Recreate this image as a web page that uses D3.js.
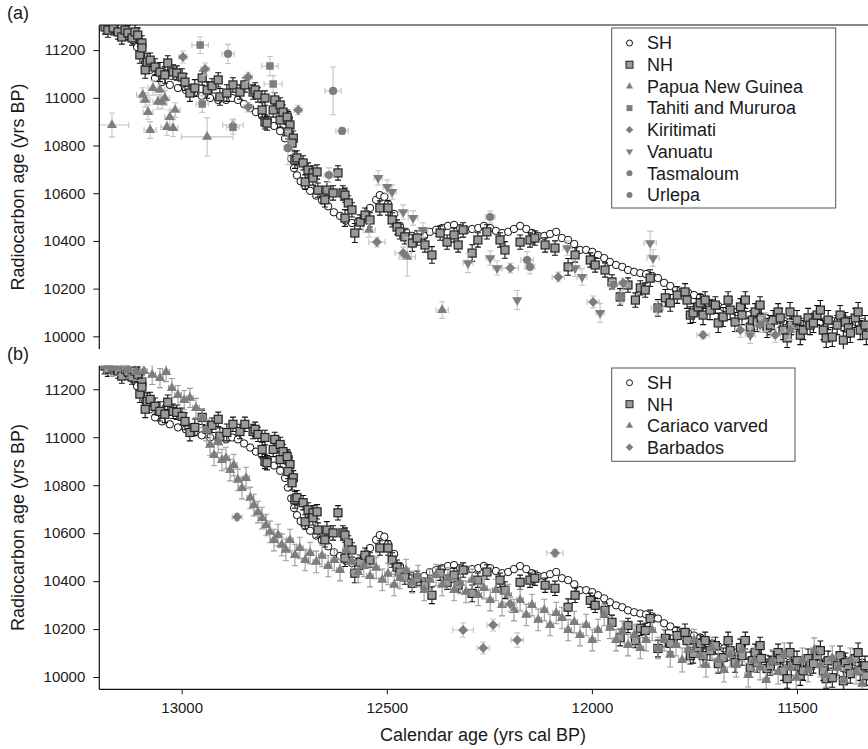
<!DOCTYPE html>
<html><head><meta charset="utf-8">
<script src="https://cdn.jsdelivr.net/npm/d3@7"></script>
<style>
body{margin:0;background:#fff}
svg{display:block}
text{font-family:"Liberation Sans",Arial,Helvetica,sans-serif;fill:#1a1a1a}
</style>
</head><body>
<svg id="c" width="868" height="749"></svg>
<script>
// ---------------- data ----------------
const xTicks = [13000, 12500, 12000, 11500];
const yTicks = [10000, 10200, 10400, 10600, 10800, 11000, 11200];

// SH: [cal BP, 14C BP]
const SH = [
[13180,11293],[13163,11284],[13146,11272],[13131,11259],[13119,11242],[13109,11213],[13099,11180],[13089,11150],[13077,11117],[13065,11083],
[13048,11066],[13029,11054],[13009,11041],[12990,11033],[12970,11020],[12951,11008],[12931,10999],[12911,10991],[12892,10991],[12877,10999],
[12863,10991],[12848,10974],[12833,10957],[12819,10940],[12804,10924],[12790,10907],[12775,10882],[12760,10860],[12748,10830],[12741,10790],
[12733,10745],[12726,10705],[12719,10675],[12710,10650],[12699,10630],[12687,10610],[12672,10590],[12658,10570],[12643,10545],[12629,10520],
[12614,10505],[12600,10485],[12585,10475],[12570,10482],[12555,10505],[12541,10538],[12526,10572],[12517,10592],[12506,10585],[12497,10555],
[12482,10513],[12468,10463],[12453,10438],[12438,10421],[12424,10412],[12409,10421],[12395,10438],[12380,10446],[12365,10454],[12351,10463],
[12336,10467],[12321,10454],[12307,10446],[12292,10450],[12277,10454],[12263,10463],[12248,10454],[12234,10442],[12219,10433],[12204,10438],
[12190,10450],[12175,10463],[12160,10450],[12146,10433],[12131,10421],[12116,10421],[12102,10429],[12087,10438],[12073,10412],[12058,10404],
[12043,10387],[12029,10362],[12014,10362],[11999,10354],[11985,10341],[11970,10328],[11956,10312],[11941,10299],[11926,10291],[11912,10278],
[11897,10270],[11882,10265],[11868,10261],[11853,10253],[11839,10244],[11824,10224],[11809,10211],[11795,10194],[11780,10186],[11765,10182],
[11751,10173],[11736,10165],[11722,10152],[11707,10140],[11692,10127],[11678,10119],[11663,10110],[11648,10102],[11634,10094],[11619,10089],
[11604,10085],[11590,10077],[11575,10077],[11560,10068],[11546,10068],[11531,10064],[11517,10060],[11502,10064],[11487,10060],[11473,10068],
[11458,10060],[11444,10060],[11429,10068],[11414,10064],[11400,10068],[11385,10073],[11370,10068],[11356,10060],[11341,10060]
];

// NH: [cal BP, 14C BP, 1-sigma 14C]
const NH = [
[13187,11297,30],[13180,11284,30],[13167,11293,30],[13155,11276,30],[13146,11255,30],[13138,11284,30],[13131,11272,30],[13121,11251,30],
[13114,11276,30],[13107,11263,30],[13102,11180,35],[13097,11230,30],[13097,11209,35],[13089,11117,35],[13084,11150,35],[13077,11158,30],
[13065,11129,35],[13053,11108,40],[13041,11096,35],[13034,11146,30],[13021,11108,30],[13012,11104,30],[12999,11087,35],[12992,11066,35],
[12980,11020,35],[12968,11041,35],[12950,11083,30],[12938,11033,35],[12926,11050,30],[12911,11075,30],[12907,11004,35],[12890,11020,35],
[12875,11054,30],[12858,11024,30],[12846,11054,30],[12826,11024,30],[12821,11033,30],[12814,11012,30],[12804,10949,30],[12797,10999,30],
[12797,10899,30],[12792,10894,30],[12773,10991,30],[12777,10949,30],[12760,10970,30],[12760,10907,30],[12753,10940,30],[12741,10907,35],
[12743,10919,30],[12736,10886,30],[12741,10857,30],[12728,10831,30],[12731,10810,30],[12724,10739,35],[12719,10748,30],[12704,10727,30],
[12692,10697,30],[12680,10685,30],[12699,10647,30],[12680,10664,30],[12670,10689,30],[12668,10613,30],[12651,10572,30],[12646,10613,35],
[12631,10601,30],[12619,10685,30],[12607,10601,30],[12602,10592,30],[12594,10559,30],[12602,10496,35],[12585,10530,30],[12578,10433,40],
[12565,10479,30],[12553,10508,30],[12541,10488,30],[12517,10538,30],[12497,10538,30],[12487,10488,30],[12475,10458,30],[12468,10438,30],
[12456,10417,30],[12438,10391,35],[12426,10412,30],[12407,10383,30],[12390,10341,35],[12370,10433,30],[12353,10395,30],[12336,10425,30],
[12326,10383,30],[12314,10446,30],[12292,10349,35],[12278,10404,30],[12256,10438,30],[12224,10404,30],[12212,10362,35],[12175,10395,30],
[12151,10404,30],[12139,10412,30],[12114,10383,30],[12090,10370,30],[12058,10291,35],[12041,10341,30],[12004,10320,30],[11992,10299,30],
[11968,10278,30],[11951,10228,30],[11931,10165,35],[11912,10215,30],[11894,10152,30],[11882,10203,30],[11870,10194,30],[11858,10244,35],
[11839,10119,35],[11821,10161,35],[11809,10140,35],[11792,10173,35],[11773,10186,35],[11768,10152,35],[11760,10089,35],[11753,10098,40],
[11741,10123,35],[11736,10140,35],[11729,10089,40],[11724,10152,35],[11712,10110,40],[11699,10131,35],[11692,10056,40],[11680,10081,40],
[11668,10152,35],[11663,10110,40],[11651,10060,40],[11638,10123,35],[11634,10089,40],[11626,10152,35],[11614,10039,40],[11609,10068,40],
[11602,10102,35],[11597,10060,40],[11590,10131,35],[11587,10077,40],[11573,10035,40],[11565,10047,40],[11558,10068,40],[11546,10102,35],
[11541,10077,40],[11534,10026,40],[11524,9993,40],[11517,10102,40],[11514,10047,40],[11500,10068,40],[11492,10005,40],[11485,10026,40],
[11473,10077,40],[11468,10047,40],[11460,10056,40],[11451,10089,40],[11443,10110,40],[11436,10026,40],[11429,9993,40],[11424,10068,40],
[11414,9997,40],[11402,10047,40],[11395,10089,40],[11387,9984,40],[11382,10060,40],[11375,10035,40],[11370,10014,40],[11358,10077,40],
[11351,10102,40],[11346,10026,40],[11334,10047,40],[11331,10005,40]
];

// Other records: [cal BP, 14C BP, cal error, 14C error]
const PNG = [
[13170,10886,41,50],[13095,11012,15,30],[13089,10991,12,30],[13082,10940,12,30],[13077,10865,15,35],[13070,11041,12,30],[13058,10983,12,30],
[13053,11033,12,30],[13048,10983,12,30],[13041,10999,12,30],[13036,10877,15,35],[13029,10919,12,30],[13021,10873,12,35],[13016,10949,12,30],
[12938,10836,63,80],[12875,10886,25,25],[12543,10446,15,30],[12450,10333,20,80],[12365,10110,15,35],[11578,10060,12,40],[11517,10026,12,40]
];
const Tahiti = [
[12955,11221,20,35],[12785,11133,20,40],[12777,11058,22,35],[12950,10974,15,35],[12875,10877,15,30],[11841,10119,15,30]
];
const Kiritimati = [
[12997,11171,10,25],[12943,11121,10,25],[12838,11087,10,20],[12838,10961,10,20],[12716,10949,10,20],[12524,10395,20,20],[12460,10349,20,25],
[12199,10286,20,20],[12082,10249,15,20],[11997,10144,15,25],[11948,10215,10,20],[11924,10224,10,20],[11729,10005,15,15],
[11638,10026,12,30],[11590,10047,12,30],[11553,10005,12,30]
];
const Vanuatu = [
[12521,10664,10,30],[12499,10626,10,30],[12487,10605,10,30],[12460,10521,12,30],[12436,10496,12,30],[12412,10446,12,30],[12302,10307,12,40],
[12248,10328,10,30],[12231,10286,10,30],[12182,10152,5,40],[12060,10370,10,30],[12041,10286,12,35],[12024,10249,12,35],[11980,10098,10,40],
[11858,10391,15,50],[11851,10328,15,35],[11614,10005,12,35]
];
const Tasmaloum = [
[12887,11184,15,40],[12741,10789,10,70],[12248,10500,12,25],[12158,10320,15,35],[12151,10291,12,30]
];
const Urlepa = [
[12631,11029,20,100],[12609,10861,15,15],[12641,10676,12,30],[11929,10165,10,25]
];
const Cariaco = [
[13189,11297,8,35],[13170,11289,8,35],[13150,11293,8,35],[13131,11281,8,35],[13111,11272,8,35],[13092,11276,8,35],[13072,11260,8,40],
[13053,11247,8,40],[13038,11272,8,40],[13024,11205,8,40],[13009,11176,8,40],[12994,11155,8,40],[12980,11164,8,40],[12965,11122,8,40],
[12950,11080,8,40],[12940,11030,8,45],[12931,10968,8,45],[12921,10926,8,45],[12911,10980,8,45],[12902,10905,8,45],[12892,10913,8,45],
[12882,10863,8,45],[12873,10884,8,45],[12863,10822,8,45],[12853,10788,8,45],[12843,10830,8,45],[12833,10747,8,45],[12824,10717,8,45],
[12814,10688,8,45],[12804,10663,8,45],[12794,10634,8,45],[12785,10605,8,45],[12775,10571,8,45],[12765,10592,8,45],[12756,10551,8,45],
[12746,10530,8,45],[12736,10571,8,45],[12724,10509,8,45],[12712,10538,8,45],[12699,10488,8,45],[12687,10517,8,45],[12672,10480,8,45],
[12658,10505,8,45],[12643,10463,8,45],[12628,10488,8,45],[12614,10446,8,45],[12599,10530,8,45],[12585,10480,8,45],[12570,10438,8,45],
[12556,10463,8,45],[12541,10421,8,45],[12526,10455,8,45],[12511,10405,8,45],[12497,10430,8,45],[12482,10384,8,45],[12468,10413,8,45],
[12453,10446,8,45],[12438,10396,8,45],[12424,10421,8,45],[12409,10363,8,45],[12395,10405,8,45],[12380,10425,8,45],[12365,10384,8,45],
[12351,10413,8,45],[12336,10363,8,45],[12321,10392,8,45],[12307,10355,8,45],[12292,10405,8,45],[12277,10342,8,45],[12263,10371,8,45],
[12248,10321,8,45],[12234,10363,8,45],[12219,10300,8,45],[12204,10342,8,45],[12190,10279,8,45],[12175,10321,8,45],[12160,10259,8,45],
[12146,10300,8,45],[12131,10238,8,45],[12116,10279,8,45],[12102,10217,8,45],[12087,10267,8,45],[12073,10246,8,45],[12058,10196,8,45],
[12043,10229,8,45],[12029,10175,8,45],[12014,10217,8,45],[11999,10154,8,45],[11985,10196,8,45],[11970,10259,8,45],[11956,10205,8,45],
[11941,10154,8,45],[11926,10188,8,45],[11912,10133,8,45],[11897,10175,8,45],[11882,10121,8,45],[11868,10154,8,45],[11853,10196,8,45],
[11839,10121,8,45],[11824,10154,8,45],[11809,10092,8,50],[11795,10133,8,45],[11780,10071,8,50],[11765,10113,8,45],[11751,10154,8,45],
[11736,10092,8,50],[11722,10050,8,50],[11707,10121,8,45],[11692,10071,8,50],[11678,10029,8,50],[11663,10092,8,50],[11648,10050,8,50],
[11634,10113,8,50],[11619,10008,8,50],[11604,10071,8,50],[11590,10038,8,50],[11575,9987,8,50],[11560,10063,8,50],[11546,10021,8,50],
[11531,10092,8,50],[11517,10038,8,50],[11502,9996,8,50],[11487,10071,8,50],[11473,10029,8,50],[11458,10113,8,50],[11443,10050,8,50],
[11429,10008,8,50],[11414,10079,8,50],[11400,10038,8,50],[11385,9987,8,50],[11370,10071,8,50],[11356,10021,8,50],[11341,9971,8,50]
];
const Barbados = [
[12865,10667,12,15],[12314,10196,25,30],[12265,10121,15,25],[12241,10217,15,25],[12199,10304,15,30],[12182,10154,15,30],[12090,10517,20,15]
];

const legendA = ["SH","NH","Papua New Guinea","Tahiti and Mururoa","Kiritimati","Vanuatu","Tasmaloum","Urlepa"];
const legendB = ["SH","NH","Cariaco varved","Barbados"];

// ---------------- drawing ----------------
const svg = d3.select("#c");
const W = 868;
const x = d3.scaleLinear().domain([13000, 11500]).range([181.7, 797]);
const xLeft = 99.3;

const panels = [
  {label:"(a)", y: d3.scaleLinear().domain([10000, 11200]).range([336.3, 50.1]), top:25, bottom:349, topLine:true, bottomAxis:false,
   others:[["PNG",PNG,"tri"],["Tahiti",Tahiti,"sq"],["Kiritimati",Kiritimati,"dia"],["Vanuatu",Vanuatu,"tridown"],["Tasmaloum",Tasmaloum,"circ"],["Urlepa",Urlepa,"circ"]],
   legend:{x0:611.7,y0:28,x1:835.7,y1:208,items:legendA,kinds:["sh","nh","tri","sq","dia","tridown","circ","circ"],y:43,step:21.7}},
  {label:"(b)", y: d3.scaleLinear().domain([10000, 11200]).range([677, 389.3]), top:365.7, bottom:689.3, topLine:false, bottomAxis:true,
   others:[["Cariaco",Cariaco,"tri"],["Barbados",Barbados,"dia"]],
   legend:{x0:611.7,y0:368,x1:795,y1:461.3,items:legendB,kinds:["sh","nh","tri","dia"],y:382.7,step:21.5}}
];

function symPath(kind, s){
  if(kind==="tri" || kind==="tridown") return d3.symbol().type(d3.symbolTriangle).size(s)();
  if(kind==="sq") return d3.symbol().type(d3.symbolSquare).size(s)();
  if(kind==="circ") return d3.symbol().type(d3.symbolCircle).size(s)();
  if(kind==="dia"){ const r=Math.sqrt(s/2); return `M0,${-r}L${r},0L0,${r}L${-r},0Z`; }
}

panels.forEach((p,pi)=>{
  const y = p.y;
  const clipId = "clip"+pi;
  svg.append("clipPath").attr("id",clipId).append("rect")
    .attr("x",xLeft).attr("y",p.top).attr("width",W-xLeft).attr("height",p.bottom-p.top);
  const g = svg.append("g").attr("clip-path",`url(#${clipId})`);

  // SH circles
  g.append("g").selectAll("circle").data(SH).join("circle")
    .attr("cx",d=>x(d[0])).attr("cy",d=>y(d[1])).attr("r",3.7)
    .attr("fill","#fff").attr("stroke","#111").attr("stroke-width",1);

  // NH error bars + squares
  const nh = g.append("g");
  nh.selectAll("path.eb").data(NH).join("path").attr("class","eb")
    .attr("d",d=>{const cx=x(d[0]),a=y(d[1]+d[2]),b=y(d[1]-d[2]);
       return `M${cx},${a}V${b}M${cx-3},${a}H${cx+3}M${cx-3},${b}H${cx+3}`;})
    .attr("stroke","#111").attr("stroke-width",1.1).attr("fill","none");
  nh.selectAll("rect").data(NH).join("rect")
    .attr("x",d=>x(d[0])-4).attr("y",d=>y(d[1])-4).attr("width",8).attr("height",8)
    .attr("fill","#9a9a9a").attr("stroke","#222").attr("stroke-width",1.2);

  // other records
  p.others.forEach(([name,data,kind])=>{
    const og = g.append("g");
    og.selectAll("path.eb").data(data).join("path").attr("class","eb")
      .attr("d",d=>{const cx=x(d[0]),cy=y(d[1]);
        const x0=x(d[0]+d[2]),x1=x(d[0]-d[2]),y0=y(d[1]+d[3]),y1=y(d[1]-d[3]);
        return `M${cx},${y0}V${y1}M${cx-3},${y0}H${cx+3}M${cx-3},${y1}H${cx+3}`+
               `M${x0},${cy}H${x1}M${x0},${cy-3}V${cy+3}M${x1},${cy-3}V${cy+3}`;})
      .attr("stroke", pi===1 && name==="Cariaco" ? "#9a9a9a" : "#c4c4c4").attr("stroke-width",1.1).attr("fill","none");
    og.selectAll("path.m").data(data).join("path").attr("class","m")
      .attr("d",symPath(kind, kind==="circ"?52:(kind==="sq"?56:(kind==="dia"?50:44))))
      .attr("transform",d=>`translate(${x(d[0])},${y(d[1])})`+(kind==="tridown"?" rotate(180)":""))
      .attr("fill","#7d7d7d");
  });

  // axes
  svg.append("line").attr("x1",xLeft).attr("x2",xLeft).attr("y1",p.top).attr("y2",p.bottom)
    .attr("stroke","#111").attr("stroke-width",1.2);
  if(p.topLine) svg.append("line").attr("x1",xLeft).attr("x2",W).attr("y1",p.top).attr("y2",p.top)
    .attr("stroke","#111").attr("stroke-width",1.2);
  const ya = svg.append("g").attr("transform",`translate(${xLeft},0)`)
    .call(d3.axisLeft(y).tickValues(yTicks).tickSize(6).tickPadding(8).tickFormat(d3.format("d")));
  ya.select(".domain").remove();
  ya.selectAll("text").attr("font-size",15).attr("font-family","Liberation Sans, Arial, sans-serif").attr("fill","#1a1a1a");
  ya.selectAll("line").attr("stroke","#111");

  if(p.bottomAxis){
    svg.append("line").attr("x1",xLeft).attr("x2",W).attr("y1",p.bottom).attr("y2",p.bottom)
      .attr("stroke","#111").attr("stroke-width",1.2);
    const xa = svg.append("g").attr("transform",`translate(0,${p.bottom})`)
      .call(d3.axisBottom(x).tickValues(xTicks).tickSize(5).tickPadding(8).tickFormat(d3.format("d")));
    xa.select(".domain").remove();
    xa.selectAll("text").attr("font-size",15).attr("font-family","Liberation Sans, Arial, sans-serif").attr("fill","#1a1a1a");
    xa.selectAll("line").attr("stroke","#111");
  }

  // panel label & y title
  svg.append("text").attr("x",7).attr("y",p.top-6).attr("font-size",18).text(p.label);
  const yc = (p.top+p.bottom)/2;
  svg.append("text").attr("transform",`translate(24,${yc}) rotate(-90)`).attr("text-anchor","middle")
    .attr("font-size",18).text("Radiocarbon age (yrs BP)");

  // legend
  const L = p.legend;
  svg.append("rect").attr("x",L.x0).attr("y",L.y0).attr("width",L.x1-L.x0).attr("height",L.y1-L.y0)
    .attr("fill","#fff").attr("stroke","#555").attr("stroke-width",1);
  L.items.forEach((t,i)=>{
    const cy = L.y + i*L.step, cx = 629.5, k = L.kinds[i];
    if(k==="sh") svg.append("circle").attr("cx",cx).attr("cy",cy).attr("r",3).attr("fill","#fff").attr("stroke","#111").attr("stroke-width",1);
    else if(k==="nh") svg.append("rect").attr("x",cx-3.5).attr("y",cy-3.5).attr("width",7).attr("height",7).attr("fill","#9a9a9a").attr("stroke","#222");
    else svg.append("path").attr("d",symPath(k, k==="circ"?28:(k==="sq"?36:(k==="dia"?28:22))))
      .attr("transform",`translate(${cx},${cy})`+(k==="tridown"?" rotate(180)":"")).attr("fill","#7d7d7d");
    svg.append("text").attr("x",647).attr("y",cy+6.3).attr("font-size",18).text(t);
  });
});

svg.append("text").attr("x",483).attr("y",741).attr("text-anchor","middle").attr("font-size",18)
  .text("Calendar age (yrs cal BP)");
</script>
</body></html>
